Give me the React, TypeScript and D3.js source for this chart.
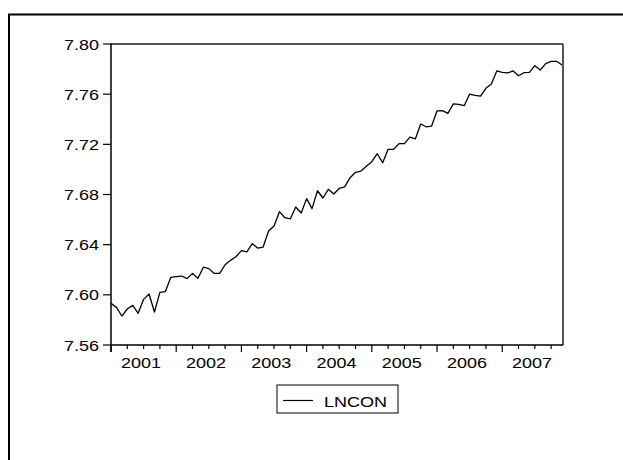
import React from "react";
import * as d3 from "d3";

const seriesName = "LNCON";
const startYear = 2001;
const yearLabels = ["2001", "2002", "2003", "2004", "2005", "2006", "2007"];
const yTicks = [7.56, 7.6, 7.64, 7.68, 7.72, 7.76, 7.8];
// monthly values, 2001M01 .. 2007M12
const lncon = [
  7.5932, 7.590, 7.5831, 7.5887, 7.5916, 7.5853, 7.5964, 7.6007, 7.5863, 7.602, 7.6025, 7.614,
  7.6145, 7.615, 7.6129, 7.6171, 7.6132, 7.622, 7.6209, 7.6171, 7.6171, 7.624, 7.6275, 7.6304,
  7.6352, 7.6342, 7.6408, 7.6373, 7.6381, 7.6509, 7.6549, 7.6663, 7.6615, 7.6605, 7.670, 7.6653,
  7.6767, 7.6687, 7.683, 7.6772, 7.6841, 7.6804, 7.6848, 7.6861, 7.6934, 7.6977, 7.6987, 7.7025,
  7.7062, 7.7125, 7.7054, 7.716, 7.716, 7.7205, 7.7205, 7.7258, 7.7243, 7.7362, 7.734, 7.7346,
  7.7466, 7.7469, 7.7447, 7.7522, 7.7519, 7.7508, 7.7601, 7.7591, 7.7585, 7.7647, 7.7681, 7.7785,
  7.7774, 7.7769, 7.7785, 7.7747, 7.7771, 7.7774, 7.7827, 7.7793, 7.7843, 7.7862, 7.7862, 7.7833,
];

const W = 623;
const H = 460;
const L = 111, R = 562, T = 44, B = 345;
const FONT = "'Liberation Sans', Arial, sans-serif";
const FS = 15;
const SX = 1.2;

export default function App() {
  const x = d3.scaleLinear().domain([0, lncon.length - 1]).range([L, R]);
  const y = d3.scaleLinear().domain([7.56, 7.8]).range([B, T]);
  const line = d3
    .line<number>()
    .x((_, i) => x(i))
    .y((d) => y(d));

  const minorTicks = d3.range(0, lncon.length, 3);
  const fmt = d3.format(".2f");

  return (
    <svg
      width={W}
      height={H}
      style={{ position: "absolute", left: 0, top: 0, background: "#fff" }}
    >
      <rect x={0} y={0} width={W} height={H} fill="#fff" />
      {/* outer frame */}
      <rect x={9} y={14.5} width={700} height={600} fill="none" stroke="#000" strokeWidth={2} />

      {/* plot frame top/right */}
      <line x1={L} y1={T} x2={R + 1} y2={T} stroke="#555" strokeWidth={2} />
      <line x1={R + 1} y1={T} x2={R + 1} y2={B} stroke="#555" strokeWidth={2} />

      {/* series */}
      <path d={line(lncon) || ""} fill="none" stroke="#000" strokeWidth={1.3} strokeLinejoin="round" />

      {/* axes */}
      <line x1={L} y1={T - 0.5} x2={L} y2={B + 7} stroke="#000" strokeWidth={1.5} />
      <line x1={L} y1={B} x2={R + 1} y2={B} stroke="#000" strokeWidth={1.5} />

      {yTicks.map((t) => (
        <g key={t}>
          <line x1={L - 8} y1={y(t)} x2={L} y2={y(t)} stroke="#000" strokeWidth={1.2} />
          <text
            transform={`translate(${L - 12},${y(t) + 5.5}) scale(${SX},1)`}
            textAnchor="end"
            fontFamily={FONT}
            fontSize={FS}
            fill="#000"
          >
            {fmt(t)}
          </text>
        </g>
      ))}

      {minorTicks.map((m) => (
        <line
          key={m}
          x1={x(m)}
          y1={B}
          x2={x(m)}
          y2={m % 12 === 0 ? B + 7 : B + 4}
          stroke="#000"
          strokeWidth={1.2}
        />
      ))}

      {yearLabels.map((lab, k) => (
        <text
          key={lab}
          transform={`translate(${x(k * 12 + 5.5)},${B + 23}) scale(${SX},1)`}
          textAnchor="middle"
          fontFamily={FONT}
          fontSize={FS}
          fill="#000"
        >
          {lab}
        </text>
      ))}

      {/* legend */}
      <rect x={277} y={385} width={121} height={28} fill="#fff" stroke="#000" strokeWidth={1} />
      <line x1={283} y1={400.5} x2={313} y2={400.5} stroke="#000" strokeWidth={1.2} />
      <text
        transform={`translate(${324},${406.5}) scale(${SX},1)`}
        fontFamily={FONT}
        fontSize={FS}
        fill="#000"
      >
        {seriesName}
      </text>
    </svg>
  );
}
